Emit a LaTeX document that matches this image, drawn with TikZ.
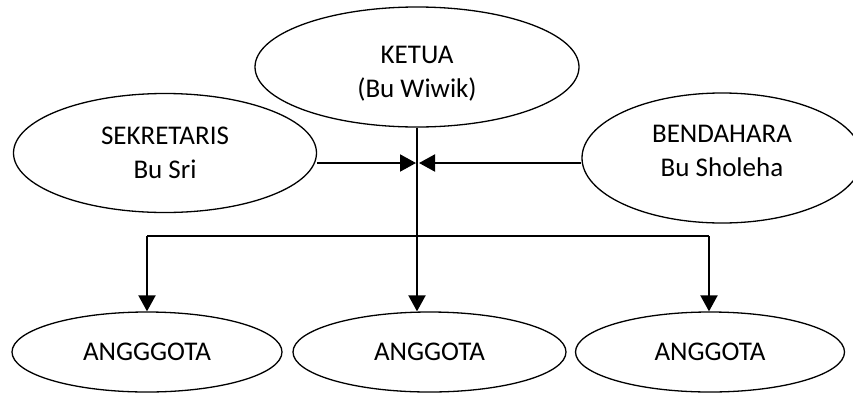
\documentclass[tikz,border=0pt]{standalone}
\usepackage{fontspec}
\setmainfont{Carlito}
\usetikzlibrary{shapes.geometric,arrows.meta}
\begin{document}
\begin{tikzpicture}[x=1pt,y=-1pt,
  oval/.style={ellipse,draw,line width=1.3pt,inner sep=0pt,align=center,
    font=\fontsize{27}{34}\selectfont},
  arr/.style={line width=2pt,-{Triangle[length=16pt,width=17pt]}},
  link/.style={line width=1.3pt}]
\useasboundingbox (0,0) rectangle (853,394);
\begin{scope}
\clip (0,0) rectangle (853,394);
\node[oval,minimum width=324pt,minimum height=120pt] (ketua) at (417,67) {\rule{0pt}{31pt}KETUA\\(Bu Wiwik)};
\node[oval,minimum width=303pt,minimum height=119pt] (sek) at (165,153) {SEKRETARIS\\Bu Sri};
\node[oval,minimum width=280pt,minimum height=130pt] (ben) at (722,158) {BENDAHARA\\Bu Sholeha\rule[-14pt]{0pt}{14pt}};
\node[oval,minimum width=270pt,minimum height=80pt] (a1) at (147,352) {ANGGGOTA};
\node[oval,minimum width=273pt,minimum height=80pt] (a2) at (429.5,352) {ANGGOTA};
\node[oval,minimum width=269pt,minimum height=80pt] (a3) at (710,352) {ANGGOTA};
\end{scope}
\coordinate (jl) at (416,163);
\coordinate (jr) at (419,163);
\coordinate (hm) at (417,236);
\coordinate (hl) at (147,236);
\coordinate (hr) at (709,236);
\draw[arr] (sek.east |- jl) -- (jl);
\draw[arr] (ben.west |- jr) -- (jr);
\draw[link] (ketua.south) -- (hm);
\draw[line width=2pt] (hl) -- (hr);
\draw[arr] (hl) -- (a1.north);
\draw[arr] (hm) -- (hm |- a2.north);
\draw[arr] (hr) -- (hr |- a3.north);
\end{tikzpicture}
\end{document}
